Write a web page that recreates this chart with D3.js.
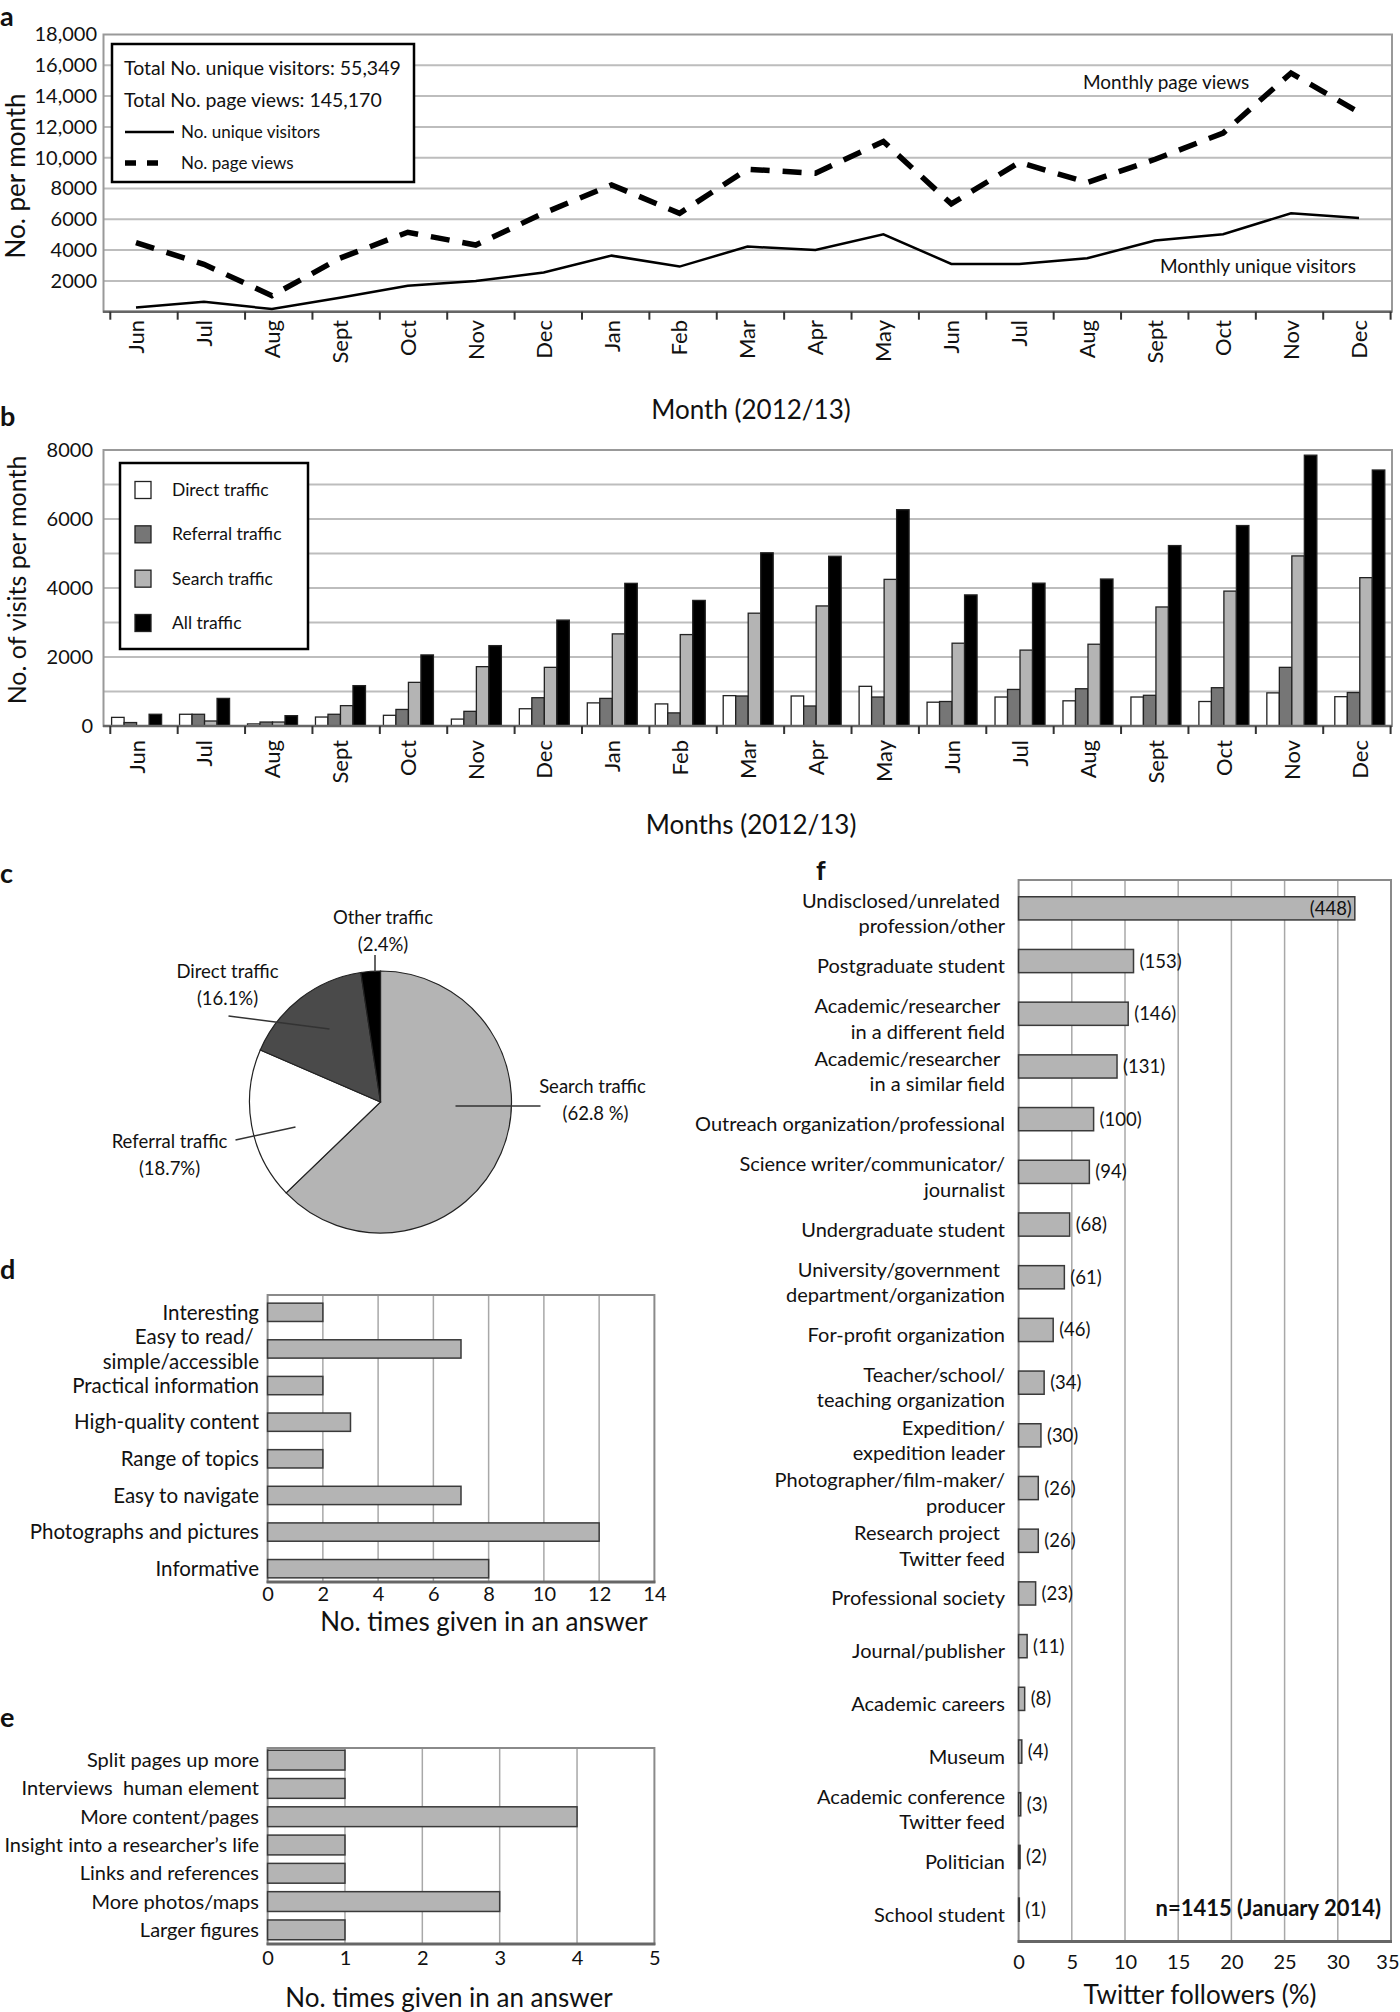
<!DOCTYPE html>
<html>
<head>
<meta charset="utf-8">
<script src="https://cdn.jsdelivr.net/npm/d3@7"></script>
<style>
  body { margin: 0; background: #fff; }
  svg { display: block; font-family: "Myriad Pro", Lato, "Open Sans", sans-serif; }
  text { white-space: pre; fill: #111; }
</style>
</head>
<body>
<svg id="fig" width="1400" height="2012"></svg>
<script>
"use strict";

/********/
/* data */
/********/

const months = ["Jun", "Jul", "Aug", "Sept", "Oct", "Nov", "Dec", "Jan", "Feb", "Mar",
  "Apr", "May", "Jun", "Jul", "Aug", "Sept", "Oct", "Nov", "Dec"];

// panel a
const pageViews = [4490, 3080, 1040, 3470, 5160, 4330, 6400, 8230, 6390, 9250,
  8990, 11050, 7000, 9700, 8390, 9900, 11600, 15500, 12950];
const uniqueVisitors = [280, 650, 170, 910, 1690, 1990, 2540, 3640, 2930, 4230,
  4010, 5030, 3100, 3100, 3470, 4620, 5030, 6390, 6090];
const ticksA = [2000, 4000, 6000, 8000, 10000, 12000, 14000, 16000, 18000];

// panel b
const trafficSeries = ["Direct traffic", "Referral traffic", "Search traffic", "All traffic"];
const directTraffic = [250, 340, 60, 260, 310, 200, 500, 670, 640, 880,
  870, 1150, 690, 840, 730, 840, 710, 960, 850];
const referralTraffic = [100, 340, 115, 340, 480, 425, 820, 800, 380, 870,
  580, 840, 710, 1060, 1080, 890, 1110, 1700, 970];
const searchTraffic = [0, 145, 115, 590, 1265, 1720, 1700, 2670, 2650, 3270,
  3480, 4250, 2400, 2200, 2370, 3450, 3910, 4930, 4300];
const allTraffic = [340, 800, 300, 1170, 2060, 2330, 3070, 4135, 3640, 5020,
  4920, 6270, 3800, 4140, 4260, 5230, 5810, 7850, 7420];
const ticksB = [0, 2000, 4000, 6000, 8000];

// panel c
const pieLabels = ["Search traffic", "Referral traffic", "Direct traffic", "Other traffic"];
const pieShares = [62.8, 18.7, 16.1, 2.4];
const piePercentText = ["(62.8 %)", "(18.7%)", "(16.1%)", "(2.4%)"];

// panel d
const likedLabels = [["Interesting"], ["Easy to read/ ", "simple/accessible"], ["Practical information"],
  ["High-quality content"], ["Range of topics"], ["Easy to navigate"],
  ["Photographs and pictures"], ["Informative"]];
const likedCounts = [2, 7, 2, 3, 2, 7, 12, 8];

// panel e
const improveLabels = ["Split pages up more", "Interviews  human element", "More content/pages",
  "Insight into a researcher\u2019s life", "Links and references", "More photos/maps", "Larger figures"];
const improveCounts = [1, 1, 4, 1, 1, 3, 1];

// panel f
const followerLabels = [
  ["Undisclosed/unrelated ", "profession/other"], ["Postgraduate student"],
  ["Academic/researcher ", "in a different field"], ["Academic/researcher ", "in a similar field"],
  ["Outreach organization/professional"], ["Science writer/communicator/", "journalist"],
  ["Undergraduate student"], ["University/government ", "department/organization"],
  ["For-profit organization"], ["Teacher/school/", "teaching organization"],
  ["Expedition/", "expedition leader"], ["Photographer/film-maker/", "producer"],
  ["Research project ", "Twitter feed"], ["Professional society"], ["Journal/publisher"],
  ["Academic careers"], ["Museum"], ["Academic conference", "Twitter feed"],
  ["Politician"], ["School student"]];
const followerCounts = [448, 153, 146, 131, 100, 94, 68, 61, 46, 34,
  30, 26, 26, 23, 11, 8, 4, 3, 2, 1];
const followerPercent = [31.6, 10.8, 10.3, 9.25, 7.05, 6.65, 4.8, 4.3, 3.25, 2.4,
  2.1, 1.85, 1.85, 1.6, 0.8, 0.57, 0.3, 0.2, 0.14, 0.07];
const ticksF = [0, 5, 10, 15, 20, 25, 30, 35];

/***********/
/* helpers */
/***********/

const svg = d3.select("#fig");
const GRID = "#bdbdbd";
const BARFILL = "#b4b4b4";

function fmtThousands(d) {
  return d >= 10000 ? d3.format(",")(d) : String(d);
}

function plainAxisText(a, size) {
  a.attr("font-family", null).attr("font-size", null);
  a.select(".domain").remove();
  a.selectAll("text").attr("font-size", size).attr("fill", "#111");
}

function panelLetter(letter, x, y) {
  svg.append("text").attr("x", x).attr("y", y)
    .attr("font-size", 27).attr("font-weight", "bold").text(letter);
}

function monthAxis(g, band, point, y0, labelTop) {
  g.append("line").attr("x1", 103).attr("x2", 1392).attr("y1", y0).attr("y2", y0)
    .attr("stroke", "#666").attr("stroke-width", 2.5);
  const edges = d3.range(months.length + 1);
  const edgeX = i => i < months.length ? band(i) : band(months.length - 1) + band.bandwidth();
  g.selectAll(".mtick").data(edges).join("line")
    .attr("class", "mtick")
    .attr("x1", edgeX).attr("x2", edgeX)
    .attr("y1", y0).attr("y2", y0 + 8)
    .attr("stroke", "#333").attr("stroke-width", 2);
  g.selectAll(".mlabel").data(months).join("text")
    .attr("class", "mlabel")
    .attr("transform", (d, i) => "translate(" + point(i) + "," + labelTop + ") rotate(-90)")
    .attr("text-anchor", "end").attr("dy", "0.36em")
    .attr("font-size", 22).text(d => d);
}

/***********/
/* panel a */
/***********/

function panelA() {
  const g = svg.append("g");
  const band = d3.scaleBand().domain(d3.range(months.length)).range([110.3, 1390.6]);
  const x = d3.scalePoint().domain(d3.range(months.length)).range([136, 1359]);
  const y = d3.scaleLinear().domain([0, 18000]).range([311.7, 34.5]);

  g.selectAll(".grid").data(ticksA.slice(0, -1)).join("line")
    .attr("class", "grid")
    .attr("x1", 103).attr("x2", 1392).attr("y1", d => y(d)).attr("y2", d => y(d))
    .attr("stroke", GRID).attr("stroke-width", 2);
  g.append("rect").attr("x", 103.5).attr("y", y(18000)).attr("width", 1288.5)
    .attr("height", y(0) - y(18000)).attr("fill", "none").attr("stroke", "#999").attr("stroke-width", 2);

  g.append("g").attr("transform", "translate(97,0)")
    .call(d3.axisLeft(y).tickValues(ticksA).tickFormat(fmtThousands).tickSize(0).tickPadding(0))
    .call(a => plainAxisText(a, 20));

  monthAxis(g, band, x, y(0), 320);

  const line = d3.line().x((d, i) => x(i)).y(d => y(d));
  g.append("path").attr("d", line(pageViews)).attr("fill", "none")
    .attr("stroke", "#000").attr("stroke-width", 5.5).attr("stroke-dasharray", "19,13");
  g.append("path").attr("d", line(uniqueVisitors)).attr("fill", "none")
    .attr("stroke", "#000").attr("stroke-width", 2.5);

  // legend
  g.append("rect").attr("x", 112).attr("y", 44).attr("width", 302).attr("height", 138)
    .attr("fill", "#fff").attr("stroke", "#000").attr("stroke-width", 2.5);
  g.append("text").attr("x", 124).attr("y", 68).attr("dy", "0.35em").attr("font-size", 19.5)
    .text("Total No. unique visitors: 55,349");
  g.append("text").attr("x", 124).attr("y", 100).attr("dy", "0.35em").attr("font-size", 19.5)
    .text("Total No. page views: 145,170");
  g.append("line").attr("x1", 125).attr("x2", 174).attr("y1", 132).attr("y2", 132)
    .attr("stroke", "#000").attr("stroke-width", 2.5);
  g.append("text").attr("x", 181).attr("y", 132).attr("dy", "0.35em").attr("font-size", 17)
    .text("No. unique visitors");
  g.append("line").attr("x1", 125).attr("x2", 168).attr("y1", 163).attr("y2", 163)
    .attr("stroke", "#000").attr("stroke-width", 5.5).attr("stroke-dasharray", "11,11");
  g.append("text").attr("x", 181).attr("y", 163).attr("dy", "0.35em").attr("font-size", 17)
    .text("No. page views");

  g.append("text").attr("x", 1083).attr("y", 82).attr("dy", "0.35em").attr("font-size", 19)
    .text("Monthly page views");
  g.append("text").attr("x", 1160).attr("y", 266).attr("dy", "0.35em").attr("font-size", 19)
    .text("Monthly unique visitors");

  g.append("text").attr("x", 751).attr("y", 410).attr("dy", "0.35em").attr("text-anchor", "middle")
    .attr("font-size", 26).text("Month (2012/13)");
  g.append("text").attr("transform", "translate(16,176) rotate(-90)").attr("dy", "0.35em")
    .attr("text-anchor", "middle").attr("font-size", 26).text("No. per month");
}

/***********/
/* panel b */
/***********/

function panelB() {
  const g = svg.append("g");
  const band = d3.scaleBand().domain(d3.range(months.length)).range([110.3, 1390.6]);
  const x = d3.scalePoint().domain(d3.range(months.length)).range([136.6, 1359.8]);
  const y = d3.scaleLinear().domain([0, 8000]).range([726, 450]);
  const inner = d3.scaleBand().domain(trafficSeries).range([-25, 25]);
  const colour = d3.scaleOrdinal().domain(trafficSeries).range(["#ffffff", "#767676", BARFILL, "#000000"]);
  const seriesValues = [directTraffic, referralTraffic, searchTraffic, allTraffic];

  g.selectAll(".grid").data(d3.range(1000, 8000, 1000)).join("line")
    .attr("class", "grid")
    .attr("x1", 103).attr("x2", 1392).attr("y1", d => y(d)).attr("y2", d => y(d))
    .attr("stroke", GRID).attr("stroke-width", 2);
  g.append("rect").attr("x", 103.5).attr("y", y(8000)).attr("width", 1288.5)
    .attr("height", y(0) - y(8000)).attr("fill", "none").attr("stroke", "#999").attr("stroke-width", 2);

  g.append("g").attr("transform", "translate(93,0)")
    .call(d3.axisLeft(y).tickValues(ticksB).tickFormat(fmtThousands).tickSize(0).tickPadding(0))
    .call(a => plainAxisText(a, 20));

  trafficSeries.forEach(function(name, s) {
    g.append("g").selectAll("rect").data(seriesValues[s]).join("rect")
      .attr("x", (d, i) => x(i) + inner(name))
      .attr("width", inner.bandwidth())
      .attr("y", d => y(d))
      .attr("height", d => y(0) - y(d))
      .attr("fill", colour(name))
      .attr("stroke", d => d > 0 ? "#222" : "none")
      .attr("stroke-width", 1.3);
  });

  monthAxis(g, band, x, y(0), 740);

  // legend
  g.append("rect").attr("x", 120).attr("y", 463).attr("width", 188).attr("height", 186)
    .attr("fill", "#fff").attr("stroke", "#000").attr("stroke-width", 2.5);
  const ly = d3.scalePoint().domain(trafficSeries).range([490, 623]);
  const leg = g.selectAll(".leg").data(trafficSeries).join("g")
    .attr("class", "leg")
    .attr("transform", d => "translate(0," + ly(d) + ")");
  leg.append("rect").attr("x", 135).attr("y", -8.5).attr("width", 16).attr("height", 17)
    .attr("fill", d => colour(d)).attr("stroke", "#222").attr("stroke-width", 1.3);
  leg.append("text").attr("x", 172).attr("dy", "0.35em").attr("font-size", 17.5).text(d => d);

  g.append("text").attr("x", 751).attr("y", 825).attr("dy", "0.35em").attr("text-anchor", "middle")
    .attr("font-size", 26).text("Months (2012/13)");
  g.append("text").attr("transform", "translate(17,580) rotate(-90)").attr("dy", "0.35em")
    .attr("text-anchor", "middle").attr("font-size", 25).text("No. of visits per month");
}

/***********/
/* panel c */
/***********/

function panelC() {
  const cx = 380.5, cy = 1102, r = 131;
  const g = svg.append("g").attr("transform", "translate(" + cx + "," + cy + ")");
  const pie = d3.pie().sort(null).value(d => d);
  const arc = d3.arc().innerRadius(0).outerRadius(r);
  const colour = d3.scaleOrdinal().domain(pieLabels).range([BARFILL, "#ffffff", "#4a4a4a", "#000000"]);

  g.selectAll("path").data(pie(pieShares)).join("path")
    .attr("d", arc)
    .attr("fill", (d, i) => colour(pieLabels[i]))
    .attr("stroke", "#222").attr("stroke-width", 1.2);

  // label layout relative to the pie centre: [text x, text y, leader x1, y1, x2, y2]
  const layout = [
    [212, -15, 75, 4, 160, 4],
    [-211, 40, -145, 38, -85, 25],
    [-153, -130, -152, -86, -51, -73],
    [2.5, -184, -5.5, -147, -5.5, -130]
  ];
  layout.forEach(function(p, i) {
    g.append("line").attr("x1", p[2]).attr("y1", p[3]).attr("x2", p[4]).attr("y2", p[5])
      .attr("stroke", "#333").attr("stroke-width", 1.5);
    g.append("text").attr("x", p[0]).attr("y", p[1]).attr("dy", "0.35em")
      .attr("text-anchor", "middle").attr("font-size", 18.5).text(pieLabels[i]);
    g.append("text").attr("x", p[0] + (i === 0 ? 3 : 0)).attr("y", p[1] + 26.5).attr("dy", "0.35em")
      .attr("text-anchor", "middle").attr("font-size", 18.5).text(piePercentText[i]);
  });
}

/******************/
/* panels d, e, f */
/******************/

function hBarPanel(opts) {
  const g = svg.append("g");
  const x = d3.scaleLinear().domain([0, opts.max]).range([opts.x0, opts.x1]);
  const y = d3.scaleBand().domain(d3.range(opts.values.length)).range([opts.y0, opts.y1])
    .paddingInner(opts.padIn).paddingOuter(opts.padOut);

  g.selectAll(".grid").data(opts.ticks.slice(1, -1)).join("line")
    .attr("class", "grid")
    .attr("x1", d => x(d)).attr("x2", d => x(d)).attr("y1", opts.top).attr("y2", opts.bottom)
    .attr("stroke", "#a8a8a8").attr("stroke-width", 1.5);
  g.append("rect").attr("x", x(0)).attr("y", opts.top).attr("width", x(opts.max) - x(0))
    .attr("height", opts.bottom - opts.top).attr("fill", "none").attr("stroke", "#8a8a8a").attr("stroke-width", 2);

  g.selectAll(".bar").data(opts.values).join("rect")
    .attr("class", "bar")
    .attr("x", x(0)).attr("y", (d, i) => y(i))
    .attr("width", d => x(d) - x(0)).attr("height", y.bandwidth())
    .attr("fill", BARFILL).attr("stroke", "#3a3a3a").attr("stroke-width", 1.5);

  g.append("line").attr("x1", x(0) - 1).attr("x2", x(opts.max) + 1)
    .attr("y1", opts.bottom).attr("y2", opts.bottom)
    .attr("stroke", "#666").attr("stroke-width", 3);

  const ax = g.append("g").attr("transform", "translate(0," + opts.tickY + ")")
    .call(d3.axisBottom(x).tickValues(opts.ticks).tickFormat(d3.format("d")).tickSize(0).tickPadding(0))
    .call(a => plainAxisText(a, 20));
  ax.selectAll("text").attr("dy", "0.35em");
  if (opts.lastTickEnd) {
    ax.selectAll(".tick").filter(d => d === opts.max).select("text")
      .attr("text-anchor", "end").attr("x", opts.lastTickEnd - x(opts.max));
  }

  const labels = g.selectAll(".lab").data(opts.labels).join("text")
    .attr("class", "lab")
    .attr("text-anchor", "end").attr("font-size", opts.labelSize)
    .attr("transform", (d, i) => "translate(" + opts.labelX + "," + (y(i) + y.bandwidth() / 2 + opts.labelShift) + ")");
  labels.selectAll("tspan").data(d => (Array.isArray(d) ? d : [d]).map((t, k, arr) => ({ t, k, n: arr.length })))
    .join("tspan")
    .attr("x", 0)
    .attr("y", d => (d.k - (d.n - 1) / 2) * opts.lineGap)
    .attr("dy", "0.35em")
    .text(d => d.t);

  g.append("text").attr("x", opts.titleX).attr("y", opts.titleY).attr("dy", "0.35em")
    .attr("text-anchor", "middle").attr("font-size", 26).text(opts.title);

  return { g, x, y };
}

function panelD() {
  hBarPanel({
    values: likedCounts, labels: likedLabels, max: 14, ticks: d3.range(0, 15, 2),
    x0: 267.6, x1: 654.4, y0: 1294, y1: 1587, padIn: 0.5, padOut: 0.25,
    top: 1295, bottom: 1582, tickY: 1594, labelX: 259, labelSize: 20.5, labelShift: 0, lineGap: 25,
    titleX: 484, titleY: 1622, title: "No. times given in an answer"
  });
}

function panelE() {
  hBarPanel({
    values: improveCounts, labels: improveLabels, max: 5, ticks: d3.range(0, 6),
    x0: 267.6, x1: 654.4, y0: 1746, y1: 1944, padIn: 0.3, padOut: 0.15,
    top: 1748, bottom: 1944, tickY: 1958, labelX: 259, labelSize: 20, labelShift: 0, lineGap: 25,
    titleX: 449, titleY: 1998, title: "No. times given in an answer"
  });
}

function panelF() {
  const p = hBarPanel({
    values: followerPercent, labels: followerLabels, max: 35, ticks: ticksF,
    x0: 1018.6, x1: 1391, y0: 882, y1: 1936, padIn: 0.56, padOut: 0.28,
    top: 880, bottom: 1941.5, tickY: 1962, labelX: 1005, labelSize: 20, labelShift: 5, lineGap: 25.5,
    titleX: 1200, titleY: 1995, title: "Twitter followers (%)", lastTickEnd: 1399
  });
  p.g.selectAll(".count").data(followerCounts).join("text")
    .attr("class", "count")
    .attr("x", (d, i) => i === 0 ? p.x(followerPercent[i]) - 3 : p.x(followerPercent[i]) + 6)
    .attr("y", (d, i) => p.y(i) + p.y.bandwidth() / 2)
    .attr("dy", "0.35em")
    .attr("text-anchor", (d, i) => i === 0 ? "end" : "start")
    .attr("font-size", 18.5)
    .text(d => "(" + d + ")");
  p.g.append("text").attr("x", 1381).attr("y", 1908).attr("dy", "0.35em")
    .attr("text-anchor", "end").attr("font-size", 22).attr("font-weight", "bold")
    .text("n=1415 (January 2014)");
}

/********/
/* init */
/********/

panelA();
panelB();
panelC();
panelD();
panelE();
panelF();
panelLetter("a", 0, 26);
panelLetter("b", 0, 426);
panelLetter("c", 0, 883);
panelLetter("d", 0, 1279);
panelLetter("e", 0, 1727);
panelLetter("f", 816, 880);
</script>
</body>
</html>
